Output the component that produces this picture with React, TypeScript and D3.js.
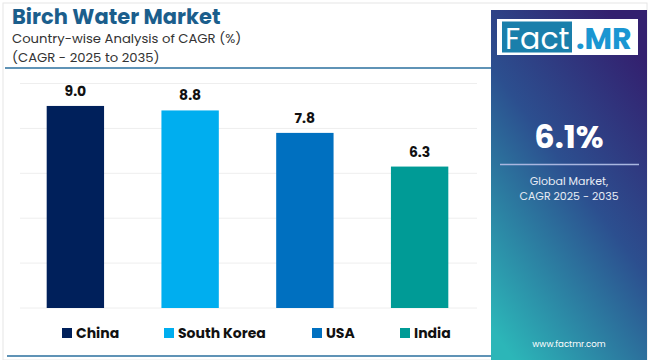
import React, { useRef, useEffect } from 'react';
import * as d3 from 'd3';

const countries = ['China', 'South Korea', 'USA', 'India'];
const cagrValues = [9.0, 8.8, 7.8, 6.3];
const barColors = ['#00205b', '#00aeef', '#0070c0', '#009b96'];
const gridTicks = [0, 2, 4, 6, 8, 10];
const legendX = [62, 164, 312, 400];

const FONT = "Poppins, 'Open Sans', 'Noto Sans', sans-serif";

const App = () => {
  const svgRef = useRef<SVGSVGElement>(null);

  useEffect(() => {
    if (!svgRef.current) return;
    const width = 650;
    const height = 360;
    const svg = d3.select(svgRef.current);
    svg.selectAll('*').remove();

    // outer card
    svg.append('rect')
      .attr('x', 3).attr('y', 3)
      .attr('width', width - 6).attr('height', height - 3)
      .attr('fill', '#fff')
      .attr('stroke', '#e6e6e6');

    // title block
    svg.append('text')
      .attr('x', 12).attr('y', 24)
      .attr('font-family', FONT).attr('font-weight', 700)
      .attr('font-size', 21).attr('fill', '#1b5e8c')
      .text('Birch Water Market');
    svg.append('text')
      .attr('x', 12).attr('y', 42.5)
      .attr('font-family', FONT).attr('font-size', 13.2).attr('fill', '#333')
      .text('Country-wise Analysis of CAGR (%)');
    svg.append('text')
      .attr('x', 12).attr('y', 61.5)
      .attr('font-family', FONT).attr('font-size', 13.2).attr('fill', '#333')
      .text('(CAGR - 2025 to 2035)');
    svg.append('line')
      .attr('x1', 5).attr('x2', 491).attr('y1', 68).attr('y2', 68)
      .attr('stroke', '#2a6f9e').attr('stroke-width', 1.5);
    svg.append('line')
      .attr('x1', 7).attr('x2', 491).attr('y1', 356).attr('y2', 356)
      .attr('stroke', '#2a6f9e').attr('stroke-width', 1.5);

    // scales
    const x = d3.scaleBand<string>()
      .domain(countries)
      .range([18, 477])
      .paddingInner(0.5)
      .paddingOuter(0.25);
    const y = d3.scaleLinear().domain([0, 10]).range([308, 83.5]);

    // grid
    svg.append('g')
      .selectAll('line')
      .data(gridTicks)
      .enter()
      .append('line')
      .attr('x1', 20).attr('x2', 477)
      .attr('y1', d => y(d)).attr('y2', d => y(d))
      .attr('stroke', '#eeeeee').attr('stroke-width', 1);

    // bars
    svg.append('g')
      .selectAll('rect')
      .data(cagrValues)
      .enter()
      .append('rect')
      .attr('x', (d, i) => x(countries[i]) as number)
      .attr('y', d => y(d))
      .attr('width', x.bandwidth())
      .attr('height', d => y(0) - y(d))
      .attr('fill', (d, i) => barColors[i]);

    // value labels
    svg.append('g')
      .selectAll('text')
      .data(cagrValues)
      .enter()
      .append('text')
      .attr('x', (d, i) => (x(countries[i]) as number) + x.bandwidth() / 2)
      .attr('y', d => y(d) - 10)
      .attr('text-anchor', 'middle')
      .attr('font-family', FONT).attr('font-weight', 700)
      .attr('font-size', 14).attr('fill', '#111')
      .text(d => d.toFixed(1));

    // legend
    const legend = svg.append('g')
      .selectAll('g')
      .data(countries)
      .enter()
      .append('g')
      .attr('transform', (d, i) => `translate(${legendX[i]}, 328)`);
    legend.append('rect')
      .attr('width', 10).attr('height', 10)
      .attr('fill', (d, i) => barColors[i]);
    legend.append('text')
      .attr('x', 14).attr('y', 9.5)
      .attr('font-family', FONT).attr('font-weight', 700)
      .attr('font-size', 14).attr('fill', '#111')
      .text(d => d);

    // right panel
    const defs = svg.append('defs');
    const grad = defs.append('linearGradient')
      .attr('id', 'panelGrad')
      .attr('x1', '0.75').attr('y1', '0')
      .attr('x2', '0.15').attr('y2', '1');
    grad.append('stop').attr('offset', '0%').attr('stop-color', '#33206f');
    grad.append('stop').attr('offset', '45%').attr('stop-color', '#2c4f8f');
    grad.append('stop').attr('offset', '100%').attr('stop-color', '#2cb6b8');
    svg.append('rect')
      .attr('x', 491).attr('y', 10)
      .attr('width', 156).attr('height', 350)
      .attr('fill', 'url(#panelGrad)');

    // logo
    svg.append('rect')
      .attr('x', 497).attr('y', 19)
      .attr('width', 141).attr('height', 36)
      .attr('fill', '#fff');
    svg.append('rect')
      .attr('x', 502).attr('y', 21.5)
      .attr('width', 70).attr('height', 31)
      .attr('fill', '#1a7fab');
    svg.append('text')
      .attr('x', 505).attr('y', 49)
      .attr('font-family', FONT).attr('font-size', 30).attr('fill', '#fff')
      .text('Fact');
    svg.append('text')
      .attr('x', 576).attr('y', 49)
      .attr('font-family', FONT).attr('font-weight', 700)
      .attr('font-size', 30).attr('fill', '#1a96d2')
      .text('.MR');

    svg.append('text')
      .attr('x', 569).attr('y', 148)
      .attr('text-anchor', 'middle')
      .attr('font-family', FONT).attr('font-weight', 700)
      .attr('font-size', 32).attr('fill', '#fff')
      .text('6.1%');
    svg.append('line')
      .attr('x1', 500).attr('x2', 639).attr('y1', 164.5).attr('y2', 164.5)
      .attr('stroke', '#a9b6e0').attr('stroke-width', 1.5);
    svg.append('text')
      .attr('x', 569).attr('y', 184.5)
      .attr('text-anchor', 'middle')
      .attr('font-family', FONT).attr('font-size', 11).attr('fill', '#e8ecf5')
      .text('Global Market,');
    svg.append('text')
      .attr('x', 569).attr('y', 199.5)
      .attr('text-anchor', 'middle')
      .attr('font-family', FONT).attr('font-size', 11).attr('fill', '#e8ecf5')
      .text('CAGR 2025 - 2035');
    svg.append('text')
      .attr('x', 569).attr('y', 347)
      .attr('text-anchor', 'middle')
      .attr('font-family', FONT).attr('font-size', 8.6).attr('fill', '#fff')
      .text('www.factmr.com');
  }, []);

  return (
    <svg
      ref={svgRef}
      width={650}
      height={360}
      style={{ position: 'absolute', left: 0, top: 0 }}
    />
  );
};

export default App;
